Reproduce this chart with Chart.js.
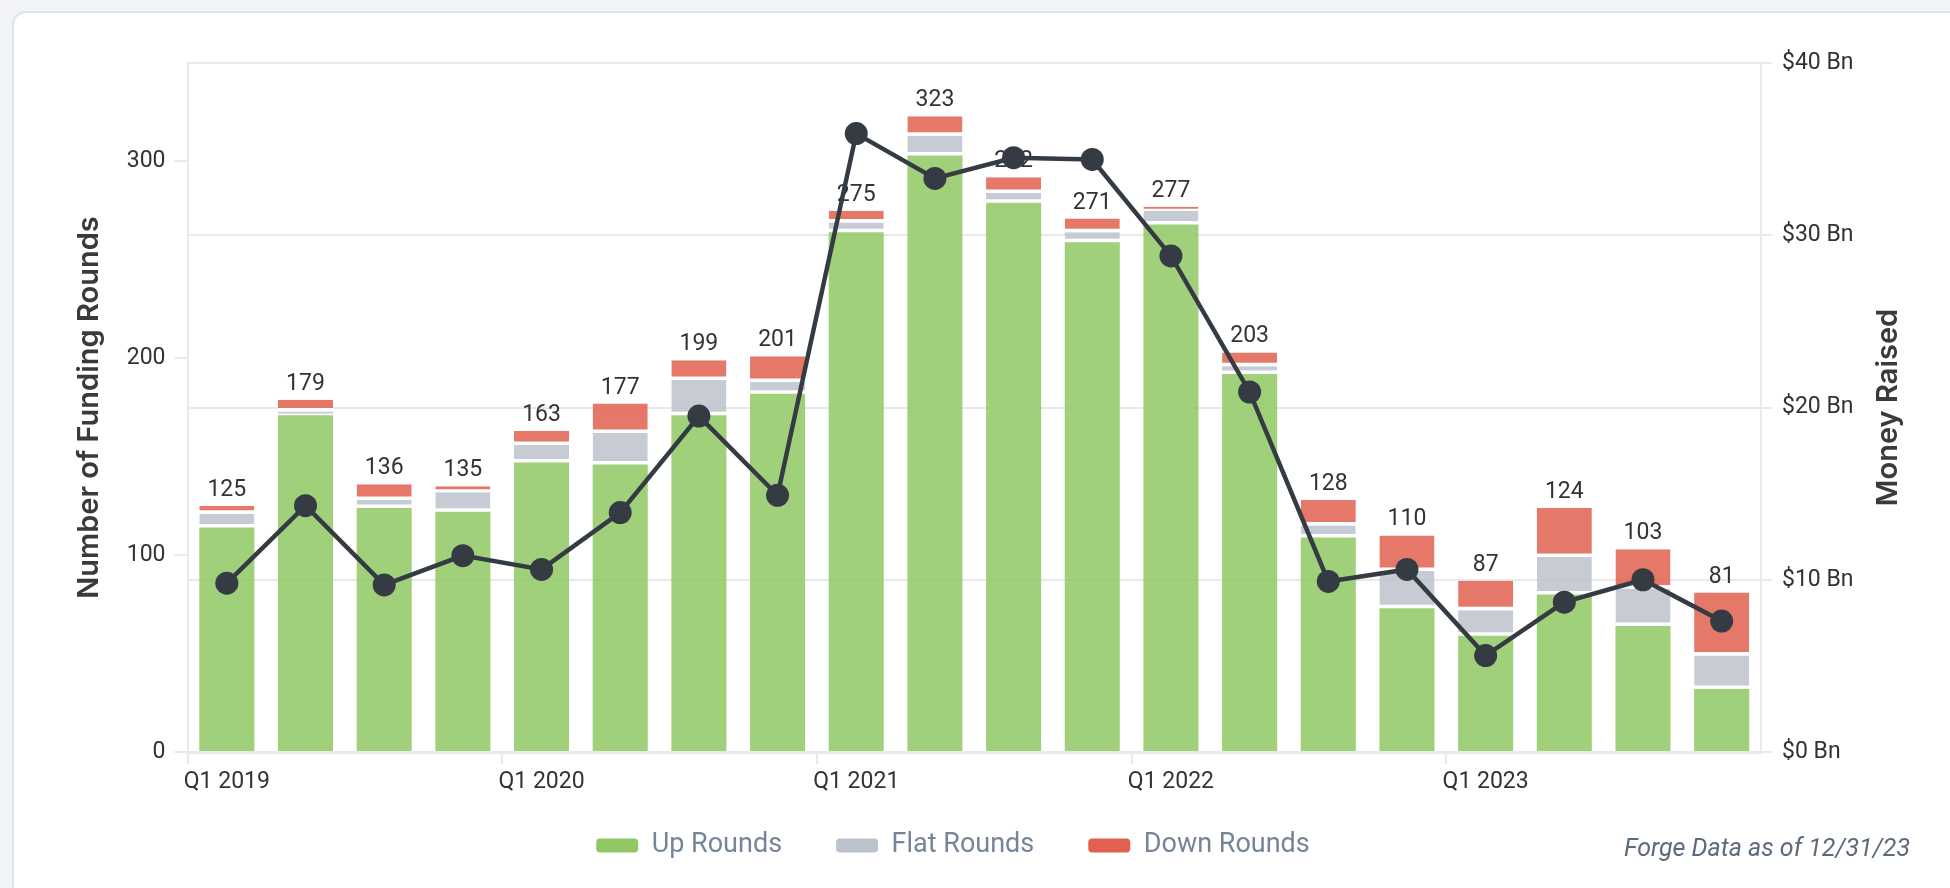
<!DOCTYPE html>
<html>
<head>
<meta charset="utf-8">
<script src="https://cdn.jsdelivr.net/npm/chart.js@4.4.1/dist/chart.umd.min.js"></script>
<style>
  html, body { margin: 0; padding: 0; background: #f2f4f7; overflow: hidden; }
  .card { position: absolute; left: 12px; top: 11px; width: 1970px; height: 910px;
          background: #fff; border: 2px solid #dce3eb; border-radius: 14px; }
  #chart { position: absolute; left: 0; top: 0; }
</style>
</head>
<body>
<div class="card"></div>
<canvas id="chart" width="1950" height="888"></canvas>
<script>
const quarters = [
  'Q1 2019', 'Q2 2019', 'Q3 2019', 'Q4 2019',
  'Q1 2020', 'Q2 2020', 'Q3 2020', 'Q4 2020',
  'Q1 2021', 'Q2 2021', 'Q3 2021', 'Q4 2021',
  'Q1 2022', 'Q2 2022', 'Q3 2022', 'Q4 2022',
  'Q1 2023', 'Q2 2023', 'Q3 2023', 'Q4 2023'
];
const upRounds   = [114, 171, 124, 122, 147, 146, 171, 182, 264, 303, 279, 259, 268, 192, 109, 73, 59, 80, 64, 32];
const flatRounds = [7, 2, 4, 10, 9, 16, 18, 6, 5, 10, 5, 5, 7, 4, 6, 19, 13, 19, 19, 17];
const downRounds = [4, 6, 8, 3, 7, 15, 10, 13, 6, 10, 8, 7, 2, 7, 13, 18, 15, 25, 20, 32];
const moneyRaised = [9.8, 14.3, 9.7, 11.4, 10.6, 13.9, 19.5, 14.9, 35.9, 33.3, 34.5, 34.4, 28.8, 20.9, 9.9, 10.6, 5.6, 8.7, 10.0, 7.6];
const roundTicks = [0, 100, 200, 300];

const GREEN = 'rgb(145,200,100)';
const GRAY = 'rgb(188,194,204)';
const RED = 'rgb(226,96,79)';
const LINE = '#343b43';
const GRID = '#e8e9eb';
const TICK_FONT = { family: 'Roboto', size: 23 };

const totals = upRounds.map((v, i) => v + flatRounds[i] + downRounds[i]);

const gapBorder = { top: 0, left: 0, right: 0, bottom: 3.5 };

// totals above the stacks, drawn before the line so the markers sit on top
const totalsPlugin = {
  id: 'totals',
  beforeDatasetDraw(chart, args) {
    if (args.index !== 3) return;
    const ctx = chart.ctx;
    const meta = chart.getDatasetMeta(2);
    ctx.save();
    ctx.font = '23px Roboto';
    ctx.fillStyle = '#333';
    ctx.textAlign = 'center';
    ctx.textBaseline = 'alphabetic';
    meta.data.forEach((bar, i) => {
      ctx.fillText(String(totals[i]), bar.x, bar.y - 10);
    });
    ctx.restore();
  }
};

const extrasPlugin = {
  id: 'extras',
  afterLayout(chart) {
    const lg = chart.legend;
    lg.left -= 22;
    lg.right -= 22;
    lg.top -= 19;
    lg.bottom -= 19;
  },
  afterDraw(chart) {
    const ctx = chart.ctx;
    const area = chart.chartArea;
    ctx.save();
    // right axis title, reading bottom to top
    ctx.translate(1888, (area.top + area.bottom) / 2);
    ctx.rotate(-Math.PI / 2);
    ctx.font = '600 29px Inter';
    ctx.fillStyle = '#3a3a3a';
    ctx.textAlign = 'center';
    ctx.textBaseline = 'middle';
    ctx.fillText('Money Raised', 0, 0);
    ctx.restore();

    ctx.save();
    ctx.font = 'italic 25px Roboto';
    ctx.fillStyle = '#5d6a7b';
    ctx.textAlign = 'right';
    ctx.textBaseline = 'middle';
    ctx.fillText('Forge Data as of 12/31/23', 1910, 850);
    ctx.restore();
  }
};

new Chart(document.getElementById('chart'), {
  type: 'bar',
  data: {
    labels: quarters,
    datasets: [
      {
        label: 'Up Rounds',
        data: upRounds,
        backgroundColor: 'rgba(145,200,100,0.85)',
        order: 1
      },
      {
        label: 'Flat Rounds',
        data: flatRounds,
        backgroundColor: 'rgba(188,194,204,0.85)',
        borderColor: '#fff',
        borderWidth: gapBorder,
        borderSkipped: false,
        order: 1
      },
      {
        label: 'Down Rounds',
        data: downRounds,
        backgroundColor: 'rgba(226,96,79,0.85)',
        borderColor: '#fff',
        borderWidth: gapBorder,
        borderSkipped: false,
        order: 1
      },
      {
        type: 'line',
        label: 'Money Raised',
        data: moneyRaised,
        yAxisID: 'y1',
        borderColor: LINE,
        borderWidth: 4.5,
        pointRadius: 11.5,
        pointBackgroundColor: LINE,
        pointBorderWidth: 0,
        tension: 0,
        order: 0
      }
    ]
  },
  options: {
    responsive: false,
    animation: false,
    barPercentage: 0.7,
    categoryPercentage: 1,
    layout: { padding: { top: 63, bottom: 0, left: 0, right: 0 } },
    plugins: {
      tooltip: { enabled: false },
      legend: {
        position: 'bottom',
        labels: {
          font: { family: 'Roboto', size: 27 },
          color: '#768499',
          boxWidth: 42,
          boxHeight: 14,
          padding: 54,
          useBorderRadius: true,
          borderRadius: 4,
          filter: item => item.datasetIndex < 3,
          generateLabels(chart) {
            const items = Chart.defaults.plugins.legend.labels.generateLabels(chart);
            const solid = [GREEN, GRAY, RED];
            items.forEach(it => {
              if (it.datasetIndex < 3) {
                it.fillStyle = solid[it.datasetIndex];
                it.lineWidth = 0;
                it.strokeStyle = 'transparent';
              }
            });
            return items;
          }
        }
      }
    },
    scales: {
      x: {
        stacked: true,
        afterFit(scale) { scale.height = 45; },
        grid: {
          drawOnChartArea: false,
          tickLength: 12,
          lineWidth: 2,
          color: ctx => (ctx.index % 4 === 0 ? GRID : 'transparent')
        },
        border: { color: GRID, width: 3 },
        ticks: {
          autoSkip: false,
          maxRotation: 0,
          padding: 4,
          font: TICK_FONT,
          color: '#333',
          callback: (v, i) => (i % 4 === 0 ? quarters[i] : '')
        }
      },
      y: {
        stacked: true,
        position: 'left',
        min: 0,
        max: 350,
        afterFit(scale) { scale.width = 187.5; },
        afterBuildTicks(scale) {
          scale.ticks = roundTicks.map(v => ({ value: v }));
        },
        grid: { drawOnChartArea: false, tickLength: 13, lineWidth: 2, color: GRID },
        border: { color: GRID, width: 2 },
        ticks: { padding: 9, font: TICK_FONT, color: '#333' },
        title: {
          display: true,
          text: 'Number of Funding Rounds',
          font: { family: 'Inter', size: 29, weight: '600' },
          color: '#3a3a3a',
          padding: { top: 72, bottom: 0 }
        }
      },
      y1: {
        position: 'right',
        min: 0,
        max: 40,
        afterFit(scale) { scale.width = 189; },
        grid: { drawOnChartArea: true, tickLength: 11, lineWidth: 2, color: GRID },
        border: { color: GRID, width: 2 },
        ticks: {
          stepSize: 10,
          padding: 10,
          font: TICK_FONT,
          color: '#333',
          callback: v => '$' + v + ' Bn'
        }
      }
    }
  },
  plugins: [totalsPlugin, extrasPlugin]
});
</script>
</body>
</html>
